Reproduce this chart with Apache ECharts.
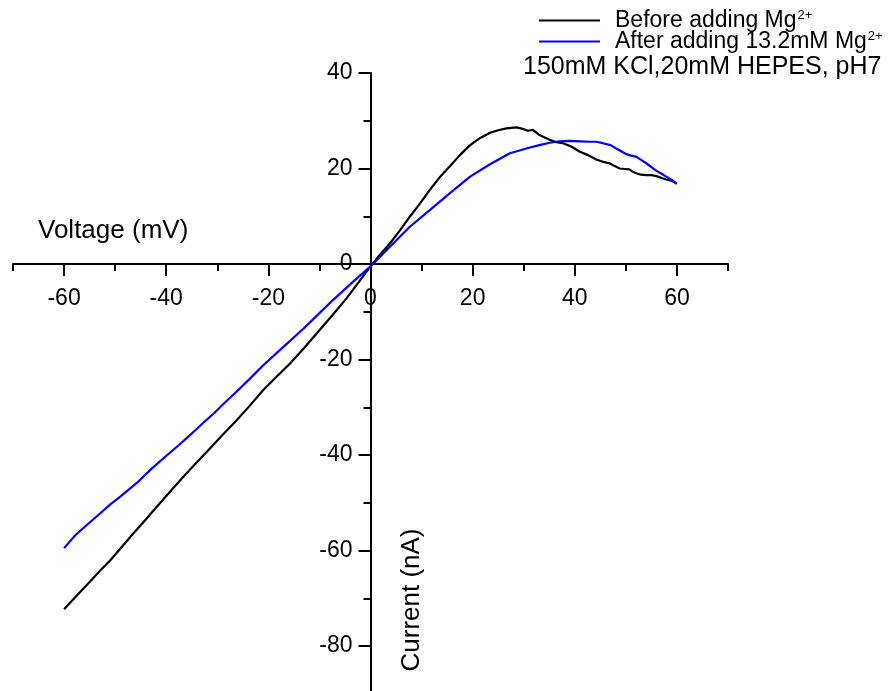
<!DOCTYPE html>
<html><head><meta charset="utf-8">
<script src="https://cdn.jsdelivr.net/npm/echarts@6/dist/echarts.min.js"></script>
<style>html,body{margin:0;padding:0;background:#fff}#c{width:889px;height:691px}</style>
</head><body><div id="c"></div>
<script>
const FONT = 'Arial, "Liberation Sans", Helvetica, sans-serif';
const xMin = -70, xMax = 70, yMin = -90, yMax = 40;
const xMajorTicks = [-60, -40, -20, 0, 20, 40, 60];
const xMinorTicks = [-70, -50, -30, -10, 10, 30, 50, 70];
const yMajorTicks = [40, 20, 0, -20, -40, -60, -80];
const yMinorTicks = [30, 10, -10, -30, -50, -70, -90];
const seriesNames = ['Before adding Mg', 'After adding 13.2mM Mg'];
const superscript = '2+';
const noteText = '150mM KCl,20mM HEPES, pH7';
const xTitle = 'Voltage (mV)';
const yTitle = 'Current (nA)';

const beforeVoltage = [-60, -57.5, -55, -53, -50.9, -48.5, -46.4, -44, -41.8, -39, -36.6, -34, -31.4, -28.8, -26.2, -23.5, -21, -18.3, -15.7, -13, -10.5, -7.5, -4.7, -2.3, 0, 1.8, 3.8, 5.8, 7.7, 9.7, 11.6, 13.5, 15.5, 17.5, 19.5, 21.5, 23.4, 25, 26.6, 28.6, 29.8, 30.8, 31.8, 33.1, 34.1, 35.1, 36.4, 37.7, 39.3, 41, 42.6, 44.2, 45.5, 46.8, 47.8, 48.8, 49.8, 50.7, 51.4, 52, 53, 54, 55, 56, 57, 57.9, 59, 60];
const beforeCurrent = [-72.3, -69.4, -66.6, -64.3, -62.0, -59.0, -56.4, -53.5, -50.8, -47.4, -44.5, -41.5, -38.6, -35.6, -32.7, -29.5, -26.4, -23.5, -20.8, -17.6, -14.5, -10.8, -7.2, -3.8, -0.5, 1.9, 4.3, 7.1, 9.9, 12.7, 15.5, 18.1, 20.4, 22.8, 24.9, 26.4, 27.5, 28.0, 28.4, 28.6, 28.3, 27.9, 28.1, 27.0, 26.5, 26.0, 25.5, 25.3, 24.6, 23.5, 22.8, 21.9, 21.4, 21.1, 20.5, 20.0, 19.9, 19.8, 19.3, 19.0, 18.7, 18.6, 18.6, 18.4, 18.0, 17.7, 17.4, 16.8];

const afterVoltage = [-60, -57.8, -55.5, -52.9, -51, -49, -45.7, -42.8, -39.8, -37.5, -35.3, -33, -30.7, -28.5, -26.2, -23.6, -21, -17, -13.1, -10.2, -7.3, -3.5, 0, 3.8, 7.7, 11.6, 15.5, 19.5, 23.4, 27.3, 31.2, 33.1, 35.1, 37, 39, 41, 42.9, 44.2, 45.5, 47, 48.1, 49.1, 50.1, 51, 52, 53, 54, 55, 56, 57, 57.9, 59, 59.9];
const afterCurrent = [-59.5, -56.8, -54.6, -52.2, -50.4, -48.7, -45.8, -42.8, -40.0, -37.9, -35.8, -33.5, -31.3, -29.0, -26.7, -24.0, -21.2, -17.3, -13.5, -10.5, -7.5, -3.8, -0.5, 3.6, 7.8, 11.3, 14.8, 18.3, 20.9, 23.2, 24.4, 24.9, 25.4, 25.7, 25.8, 25.7, 25.6, 25.6, 25.3, 24.9, 24.2, 23.6, 23.0, 22.7, 22.5, 21.8, 21.1, 20.3, 19.5, 18.9, 18.3, 17.6, 16.9];

const pair = (xs, ys) => xs.map((x, i) => [x, ys[i]]);
const onlyMajor = list => v => (list.indexOf(Math.round(v)) >= 0 ? String(Math.round(v)) : '');

const chart = echarts.init(document.getElementById('c'), null, {renderer: 'canvas'});
const axisLineStyle = {color: '#000', width: 2};

function makeAxes(xOffset, yOffset) {
  return {
    xAxis: [
      {type: 'value', min: xMin, max: xMax, interval: 10, position: 'bottom', offset: xOffset,
       axisLine: {show: true, onZero: false, lineStyle: axisLineStyle},
       axisTick: {show: true, inside: false, length: 12, lineStyle: axisLineStyle, customValues: xMajorTicks},
       axisLabel: {show: true, margin: 23, formatter: onlyMajor(xMajorTicks), hideOverlap: false,
         showMinLabel: true, showMaxLabel: true, color: '#000', fontSize: 23, fontFamily: FONT},
       splitLine: {show: false}},
      {type: 'value', min: xMin, max: xMax, interval: 10, position: 'bottom', offset: xOffset,
       axisLine: {show: false, onZero: false},
       axisTick: {show: true, inside: false, length: 7, lineStyle: axisLineStyle, customValues: xMinorTicks},
       axisLabel: {show: false},
       splitLine: {show: false}}
    ],
    yAxis: [
      {type: 'value', min: yMin, max: yMax, interval: 10, position: 'left', offset: yOffset,
       axisLine: {show: true, onZero: false, lineStyle: axisLineStyle},
       axisTick: {show: true, inside: false, length: 12, lineStyle: axisLineStyle, customValues: yMajorTicks},
       axisLabel: {show: true, margin: 18, formatter: onlyMajor(yMajorTicks), hideOverlap: false,
         showMinLabel: true, showMaxLabel: true, color: '#000', fontSize: 23, fontFamily: FONT},
       splitLine: {show: false}},
      {type: 'value', min: yMin, max: yMax, interval: 10, position: 'left', offset: yOffset,
       axisLine: {show: false, onZero: false},
       axisTick: {show: true, inside: false, length: 7, lineStyle: axisLineStyle, customValues: yMinorTicks},
       axisLabel: {show: false},
       splitLine: {show: false}}
    ]
  };
}

const base = makeAxes(0, 0);
chart.setOption({
  animation: false,
  backgroundColor: '#fff',
  grid: {left: 13, right: 161, top: 73, bottom: -2.75, containLabel: false, outerBoundsMode: 'none'},
  xAxis: base.xAxis,
  yAxis: base.yAxis,
  legend: {
    orient: 'vertical', left: 533, top: 4, itemWidth: 61, itemHeight: 14, itemGap: -2,
    data: seriesNames,
    itemStyle: {opacity: 0},
    formatter: name => name + '{s|' + superscript + '}',
    textStyle: {color: '#000', fontSize: 23, fontFamily: FONT, padding: [0, 0, 0, 10],
      rich: {s: {fontSize: 13, fontFamily: FONT, color: '#000', verticalAlign: 'top', padding: [0, 0, 0, 1]}}}
  },
  graphic: [
    {type: 'text', left: 523, top: 55, style: {text: noteText, fill: '#000', font: '25px ' + FONT}},
    {type: 'text', x: 38, y: 231, style: {text: xTitle, fill: '#000', font: '26px ' + FONT, verticalAlign: 'middle', align: 'left'}},
    {type: 'text', x: 412, y: 600, rotation: Math.PI / 2, style: {text: yTitle, fill: '#000', font: '26px ' + FONT, verticalAlign: 'middle', align: 'center'}}
  ],
  series: [
    {name: seriesNames[0], type: 'line', xAxisIndex: 0, yAxisIndex: 0, data: pair(beforeVoltage, beforeCurrent),
     symbol: 'none', lineStyle: {color: '#000', width: 2.2}, itemStyle: {color: '#000'}},
    {name: seriesNames[1], type: 'line', xAxisIndex: 0, yAxisIndex: 0, data: pair(afterVoltage, afterCurrent),
     symbol: 'none', lineStyle: {color: '#0000ff', width: 2.2}, itemStyle: {color: '#0000ff'}}
  ]
});

// Move the axes so they cross at zero (labels follow the lines).
const zeroX = chart.convertToPixel({xAxisIndex: 0}, 0);
const leftX = chart.convertToPixel({xAxisIndex: 0}, xMin);
const zeroY = chart.convertToPixel({yAxisIndex: 0}, 0);
const bottomY = chart.convertToPixel({yAxisIndex: 0}, yMin);
const moved = makeAxes(-(bottomY - zeroY), -(zeroX - leftX));
chart.setOption({xAxis: moved.xAxis, yAxis: moved.yAxis});
</script></body></html>
